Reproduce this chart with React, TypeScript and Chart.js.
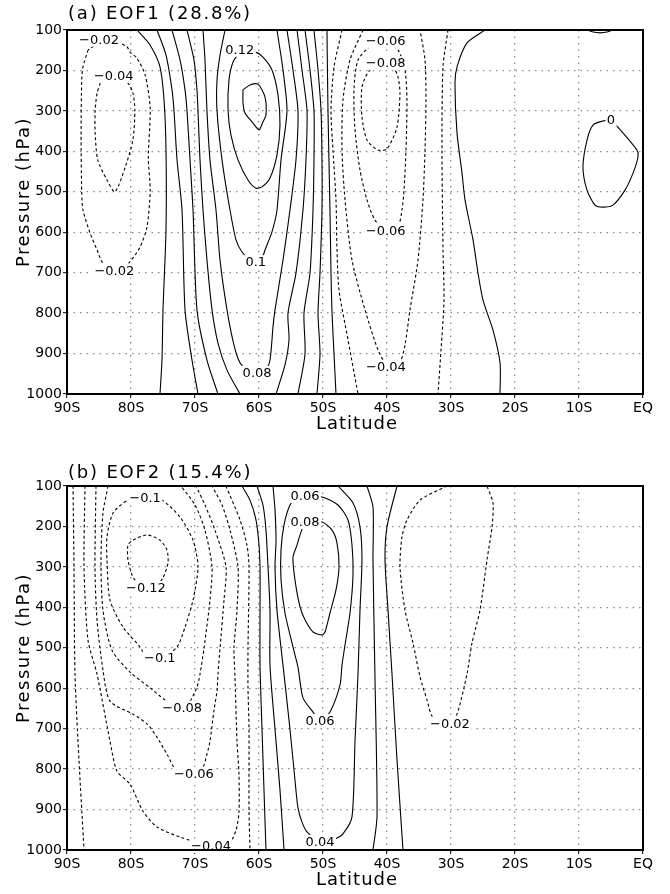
import React, { useEffect, useRef } from "react";
import { Chart, registerables } from "chart.js";

Chart.register(...registerables);

// [latitude (negative = °S), pressure (hPa)]
type P = [number, number];
type Contour = { level: number; pts: P[]; labels: P[] };

const latTickLabel = (v: number) => (v === 0 ? "EQ" : `${Math.abs(v)}S`);
const LAT_MIN = -90;
const LAT_MAX = 0;
const P_TOP = 100;
const P_BOTTOM = 1000;

// ---------------- Panel (a) EOF1 (28.8%) ----------------
const a_m002_w: P[] = [[-86.7,149],[-87.5,191],[-87.7,224],[-87.8,355],[-87.7,503],[-87.5,545],[-86.4,602],[-85.3,644],[-84.5,674],[-83,693],[-81.5,690],[-80.2,674],[-78.6,637],[-77.5,587],[-77,496],[-77.3,416],[-77,293],[-77.8,211],[-79.1,169],[-80.2,154],[-80.6,142],[-82.2,130],[-84.5,128],[-86.7,149]];
const a_m004_w: P[] = [[-84.8,231],[-85.3,256],[-85.6,298],[-85.6,355],[-85.2,421],[-83.75,471],[-82.5,500],[-80.9,439],[-79.7,372],[-79.4,298],[-79.7,256],[-80.5,231],[-82.7,216],[-84.8,231]];
const a_0_w: P[] = [[-79.06,100],[-77.03,137],[-75.47,191],[-74.84,273],[-74.53,397],[-74.53,594],[-75,792],[-75.16,916],[-75.47,1000]];
const a_002_w: P[] = [[-75.94,100],[-74.53,162],[-73.59,248],[-73.28,300],[-72.81,421],[-72.03,545],[-71.56,792],[-70.47,916],[-69.53,1000]];
const a_004_w: P[] = [[-73.59,100],[-72.34,174],[-71.56,248],[-71.25,300],[-70.78,421],[-70.31,545],[-69.69,792],[-68.13,916],[-66.41,1000]];
const a_006_w: P[] = [[-71.25,100],[-70.16,174],[-69.69,248],[-69.53,300],[-69.22,421],[-68.75,545],[-68.13,669],[-67.34,792],[-66.41,874],[-65,941],[-62.97,1000]];
const a_008_u: P[] = [[-68.75,100],[-68.44,174],[-68.13,300],[-67.66,421],[-66.72,545],[-66.09,669],[-65,792],[-63.91,879],[-62.97,923],[-61.72,943],[-60.31,948],[-58.91,938],[-58.28,916],[-57.81,834],[-57.5,792],[-56.25,669],[-55.16,545],[-54.22,421],[-53.91,300],[-54.69,199],[-55.63,100]];
const a_010_u: P[] = [[-65.31,100],[-66.09,162],[-66.56,224],[-66.56,300],[-65.78,421],[-64.53,545],[-63.59,619],[-62.66,649],[-61.41,669],[-60.47,674],[-59.53,664],[-59.06,644],[-57.97,599],[-57.19,545],[-56.56,421],[-55.63,300],[-56.25,199],[-57.19,100]];
const a_012_loop: P[] = [[-62.97,154],[-60.63,154],[-59.38,167],[-57.97,199],[-57.03,261],[-56.72,335],[-57.19,409],[-58.28,466],[-59.53,488],[-60.47,491],[-61.72,471],[-63.28,421],[-64.38,360],[-64.84,298],[-64.69,224],[-64.06,179],[-62.97,154]];
const a_014_loop: P[] = [[-62.5,248],[-61.41,236],[-60.16,234],[-59.06,266],[-58.91,310],[-59.38,327],[-60.0,347],[-61.09,327],[-62.19,305],[-62.5,280],[-62.5,248]];
const a_006_e: P[] = [[-54.06,100],[-53.28,199],[-52.5,300],[-52.66,421],[-53.13,545],[-54.22,701],[-55.47,800],[-55.31,866],[-55.94,928],[-57.34,1000]];
const a_004_e: P[] = [[-52.81,100],[-52.03,199],[-51.41,300],[-51.41,421],[-51.56,545],[-52.03,701],[-52.97,800],[-52.81,901],[-53.91,1000]];
const a_002_e: P[] = [[-51.41,100],[-50.78,199],[-50.31,300],[-50.16,421],[-50.16,545],[-50.47,701],[-50.78,800],[-50.47,901],[-50.94,1000]];
const a_0_e: P[] = [[-49.38,100],[-49.22,300],[-48.91,545],[-48.75,701],[-48.59,800],[-48.28,901],[-47.97,1000]];
const a_m002_e: P[] = [[-47.03,100],[-48.28,191],[-48.75,298],[-48.44,397],[-47.97,520],[-47.81,644],[-47.5,743],[-46.09,866],[-44.53,1000]];
const a_m004_u: P[] = [[-43.75,100],[-45.78,174],[-46.88,273],[-47.03,397],[-46.56,520],[-45.47,669],[-43.44,792],[-41.41,891],[-40.2,925],[-39.1,931],[-37.97,922],[-37.19,879],[-36.41,792],[-35.16,669],[-34.38,520],[-34.06,397],[-33.91,273],[-34.06,174],[-34.84,100]];
const a_m006_loop: P[] = [[-40.16,130],[-42.34,137],[-44.53,174],[-45.16,248],[-45.0,347],[-44.22,446],[-43.13,520],[-41.88,570],[-40.16,594],[-38.28,585],[-37.66,545],[-37.34,496],[-37.03,397],[-36.88,273],[-37.19,199],[-38.28,149],[-40.16,130]];
const a_m008_loop: P[] = [[-40.16,184],[-42.66,199],[-43.91,241],[-43.91,315],[-43.13,372],[-41.41,397],[-40,394],[-38.44,340],[-37.97,256],[-38.28,216],[-38.75,199],[-40.16,184]];
const a_m002_e2: P[] = [[-30.47,100],[-31.25,191],[-31.41,397],[-31.25,644],[-31.09,768],[-31.56,891],[-32.03,1000]];
const a_0_e2: P[] = [[-24.69,100],[-27.5,132],[-29.06,191],[-29.38,231],[-29.06,355],[-28.28,454],[-27.81,520],[-26.56,619],[-25.78,701],[-25,768],[-23.44,842],[-22.34,923],[-22.34,1000]];
const a_0_arc: P[] = [[-8.75,100],[-7.8,105],[-6.7,107],[-5.6,105],[-4.7,100]];
const a_0_loop: P[] = [[-5,323],[-6.25,325],[-7.81,335],[-8.75,372],[-9.38,439],[-8.75,496],[-7.5,533],[-6.25,538],[-4.69,533],[-2.81,496],[-1.56,454],[-0.78,414],[-0.94,397],[-4.22,335],[-5,323]];

const contoursA: Contour[] = [
  { level: -0.02, pts: a_m002_w, labels: [[-85, 124], [-82.6, 695]] },
  { level: -0.04, pts: a_m004_w, labels: [[-82.7, 214]] },
  { level: 0, pts: a_0_w, labels: [] },
  { level: 0.02, pts: a_002_w, labels: [] },
  { level: 0.04, pts: a_004_w, labels: [] },
  { level: 0.06, pts: a_006_w, labels: [] },
  { level: 0.08, pts: a_008_u, labels: [[-60.3, 948]] },
  { level: 0.1, pts: a_010_u, labels: [[-60.5, 674]] },
  { level: 0.12, pts: a_012_loop, labels: [[-63, 149]] },
  { level: 0.14, pts: a_014_loop, labels: [] },
  { level: 0.06, pts: a_006_e, labels: [] },
  { level: 0.04, pts: a_004_e, labels: [] },
  { level: 0.02, pts: a_002_e, labels: [] },
  { level: 0, pts: a_0_e, labels: [] },
  { level: -0.02, pts: a_m002_e, labels: [] },
  { level: -0.04, pts: a_m004_u, labels: [[-40.16, 933]] },
  { level: -0.06, pts: a_m006_loop, labels: [[-40.2, 127], [-40.2, 597]] },
  { level: -0.08, pts: a_m008_loop, labels: [[-40.2, 182]] },
  { level: -0.02, pts: a_m002_e2, labels: [] },
  { level: 0, pts: a_0_e2, labels: [] },
  { level: 0, pts: a_0_arc, labels: [] },
  { level: 0, pts: a_0_loop, labels: [[-5, 322]] },
];

// ---------------- Panel (b) EOF2 (15.4%) ----------------
const b_m002_w: P[] = [[-89.06,100],[-88.91,300],[-88.75,565],[-88.13,777],[-87.34,1000]];
const b_m004_u: P[] = [[-87.19,100],[-87.34,300],[-86.72,481],[-85.31,565],[-83.28,731],[-82.19,805],[-80.16,837],[-78.13,904],[-75.94,943],[-72.34,968],[-67.5,990],[-64.84,988],[-63.59,951],[-63.13,906],[-63.13,812],[-63.44,731],[-63.75,572],[-63.91,501],[-63.44,407],[-63.28,300],[-64.53,209],[-65.78,147],[-67.34,100]];
const b_m006_u: P[] = [[-85.47,100],[-85.63,300],[-85.31,431],[-84.38,555],[-83.28,632],[-79.69,664],[-77.5,688],[-75.94,721],[-74.38,763],[-72.81,805],[-70.16,812],[-68.91,802],[-68.13,763],[-67.66,731],[-67.03,654],[-66.56,607],[-66.41,565],[-66.09,501],[-65.47,382],[-65.16,300],[-66.88,209],[-68.44,147],[-69.84,100]];
const b_m008_u: P[] = [[-83.59,100],[-84.38,167],[-84.69,283],[-84.38,407],[-82.97,506],[-80.16,560],[-77.03,599],[-74.69,629],[-72.66,646],[-72.0,648],[-71.25,646],[-69.69,597],[-69.22,565],[-68.59,501],[-67.66,382],[-67.34,300],[-68.44,209],[-70.0,147],[-72.19,100]];
const b_m010_loop: P[] = [[-77.81,130],[-75.16,135],[-72.34,177],[-70.31,234],[-69.53,300],[-70.31,382],[-71.56,449],[-72.81,498],[-75.16,525],[-77.5,525],[-78.59,498],[-81.25,449],[-83.28,382],[-83.75,283],[-83.75,226],[-82.81,167],[-80.47,135],[-77.81,130]];
const b_m012_loop: P[] = [[-77.66,352],[-76.09,347],[-75.0,327],[-74.22,290],[-74.38,258],[-75.47,234],[-77.5,221],[-79.69,234],[-80.47,246],[-80.47,283],[-79.84,320],[-79.38,332],[-77.66,352]];
const b_m002_c: P[] = [[-65.16,100],[-62.97,184],[-61.88,246],[-61.56,300],[-61.72,501],[-61.72,599],[-61.56,701],[-61.56,901],[-61.41,1000]];
const b_0_w: P[] = [[-62.66,100],[-61.41,135],[-60.47,184],[-60.0,246],[-59.84,300],[-59.84,407],[-59.84,543],[-59.53,701],[-59.22,852],[-58.91,1000]];
const b_002_w: P[] = [[-60.31,100],[-59.38,147],[-58.91,209],[-58.59,300],[-58.28,407],[-58.28,543],[-57.5,701],[-56.72,852],[-56.09,1000]];
const b_004_u: P[] = [[-57.81,100],[-57.5,159],[-57.34,234],[-57.5,300],[-57.19,407],[-56.25,543],[-55.16,701],[-54.38,827],[-53.91,896],[-53.28,931],[-52.5,955],[-50.47,980],[-48.13,973],[-46.88,960],[-45.47,918],[-45.0,731],[-44.53,565],[-44.22,407],[-43.91,283],[-44.22,201],[-45.31,142],[-47.66,100]];
const b_006_loop: P[] = [[-52.81,125],[-50.16,127],[-47.66,147],[-46.09,184],[-45.47,246],[-45.31,320],[-45.78,414],[-46.56,493],[-47.03,543],[-47.34,592],[-48.91,659],[-50.47,681],[-51.56,659],[-53.13,624],[-53.91,548],[-54.69,498],[-55.94,414],[-56.56,332],[-56.56,258],[-56.09,196],[-55.16,147],[-54.22,130],[-52.81,125]];
const b_008_loop: P[] = [[-52.81,189],[-50.16,189],[-48.59,209],[-47.81,241],[-47.5,300],[-47.97,357],[-48.91,414],[-49.69,461],[-50.16,468],[-51.56,461],[-52.81,431],[-53.59,399],[-54.38,332],[-54.69,276],[-54.06,246],[-53.59,221],[-53.13,201],[-52.81,189]];
const b_002_e: P[] = [[-43.13,100],[-42.19,152],[-42.19,283],[-41.88,572],[-41.56,918],[-42.19,1000]];
const b_0_e: P[] = [[-38.44,100],[-40,201],[-40.31,283],[-39.84,407],[-39.22,565],[-38.44,777],[-37.5,1000]];
const b_m002_e: P[] = [[-30.63,100],[-34.84,135],[-36.88,184],[-37.66,226],[-37.97,300],[-37.19,407],[-35.94,488],[-34.84,572],[-33.75,629],[-32.97,669],[-31.5,686],[-30.16,688],[-29.06,664],[-27.5,565],[-26.72,488],[-25.47,407],[-24.38,283],[-23.59,201],[-23.44,142],[-24.38,100]];

const contoursB: Contour[] = [
  { level: -0.02, pts: b_m002_w, labels: [] },
  { level: -0.04, pts: b_m004_u, labels: [[-67.5, 990]] },
  { level: -0.06, pts: b_m006_u, labels: [[-70.16, 812]] },
  { level: -0.08, pts: b_m008_u, labels: [[-72.0, 648]] },
  { level: -0.1, pts: b_m010_loop, labels: [[-77.8, 130], [-75.5, 526]] },
  { level: -0.12, pts: b_m012_loop, labels: [[-77.66, 352]] },
  { level: -0.02, pts: b_m002_c, labels: [] },
  { level: 0, pts: b_0_w, labels: [] },
  { level: 0.02, pts: b_002_w, labels: [] },
  { level: 0.04, pts: b_004_u, labels: [[-50.47, 980]] },
  { level: 0.06, pts: b_006_loop, labels: [[-52.81, 125], [-50.47, 681]] },
  { level: 0.08, pts: b_008_loop, labels: [[-52.81, 189]] },
  { level: 0.02, pts: b_002_e, labels: [] },
  { level: 0, pts: b_0_e, labels: [] },
  { level: -0.02, pts: b_m002_e, labels: [[-30.16, 688]] },
];

// ---------------- drawing ----------------
const FONT = "'DejaVu Sans', 'Liberation Sans', Arial, sans-serif";
const fmtLevel = (v: number) => String(v).replace("-", "\u2212");

function makeOverlay(contours: Contour[], title: string, titleY: number) {
  return {
    id: "contourOverlay",
    afterDatasetsDraw(chart: any) {
      const { ctx, chartArea, scales } = chart;
      ctx.save();
      ctx.font = `13px ${FONT}`;
      ctx.textAlign = "center";
      ctx.textBaseline = "middle";
      for (const c of contours) {
        const text = fmtLevel(c.level);
        const w = ctx.measureText(text).width;
        for (const [lat, p] of c.labels) {
          const x = scales.x.getPixelForValue(lat);
          const y = scales.y.getPixelForValue(p);
          ctx.fillStyle = "#fff";
          ctx.fillRect(x - w / 2 - 1.5, y - 7, w + 3, 14);
          ctx.fillStyle = "#000";
          ctx.fillText(text, x, y + 0.5);
        }
      }
      ctx.lineWidth = 2;
      ctx.strokeStyle = "#000";
      ctx.strokeRect(
        chartArea.left,
        chartArea.top,
        chartArea.right - chartArea.left,
        chartArea.bottom - chartArea.top
      );
      ctx.restore();
    },
    afterDraw(chart: any) {
      const { ctx, chartArea } = chart;
      ctx.save();
      ctx.fillStyle = "#000";
      ctx.font = `18px ${FONT}`;
      (ctx as any).letterSpacing = "1.8px";
      ctx.textAlign = "left";
      ctx.textBaseline = "middle";
      ctx.fillText(title, chartArea.left + 1, titleY);
      (ctx as any).letterSpacing = "1px";
      ctx.textAlign = "center";
      ctx.fillText("Latitude", (chartArea.left + chartArea.right) / 2 + 2, chartArea.bottom + 30);
      (ctx as any).letterSpacing = "1.5px";
      ctx.translate(24, (chartArea.top + chartArea.bottom) / 2 - 20);
      ctx.rotate(-Math.PI / 2);
      ctx.fillText("Pressure (hPa)", 0, 0);
      ctx.restore();
    },
  };
}

function makeChart(
  canvas: HTMLCanvasElement,
  contours: Contour[],
  title: string,
  padTop: number,
  titleY: number
) {
  const H = canvas.height;
  const plotBottom = padTop + 364;
  const datasets = contours.map((c) => ({
    data: c.pts.map(([x, y]) => ({ x, y })),
    showLine: true,
    borderColor: "#000",
    borderWidth: 1.1,
    borderDash: c.level < 0 ? [3, 2.5] : [],
    pointRadius: 0,
    pointHoverRadius: 0,
    tension: 0.25,
    fill: false,
  }));
  const tickFont = { family: FONT, size: 14 };
  const gridOpts = {
    color: "#8a8a8a",
    lineWidth: 1.3,
    tickColor: "#000",
    tickLength: 4,
    tickWidth: 1,
    borderDash: [1.5, 5],
  };
  return new Chart(canvas, {
    type: "scatter",
    data: { datasets },
    options: {
      animation: false,
      responsive: false,
      maintainAspectRatio: false,
      events: [],
      layout: { padding: { left: 0, right: 27, top: padTop, bottom: 0 } },
      plugins: {
        legend: { display: false },
        tooltip: { enabled: false },
        title: { display: false },
      },
      scales: {
        x: {
          type: "linear",
          min: LAT_MIN,
          max: LAT_MAX,
          afterFit: (s: any) => {
            s.height = H - plotBottom;
          },
          ticks: {
            stepSize: 10,
            callback: (v: any) => latTickLabel(Number(v)),
            font: tickFont,
            color: "#000",
            padding: 2,
            maxRotation: 0,
            autoSkip: false,
          },
          grid: gridOpts,
          border: { display: false, dash: [1.5, 5] },
        },
        y: {
          type: "linear",
          reverse: true,
          min: P_TOP,
          max: P_BOTTOM,
          afterFit: (s: any) => {
            s.width = 67;
          },
          ticks: {
            stepSize: 100,
            callback: (v: any) => String(Number(v)),
            font: tickFont,
            color: "#000",
            padding: 1,
            autoSkip: false,
          },
          grid: gridOpts,
          border: { display: false, dash: [1.5, 5] },
        },
      },
    } as any,
    plugins: [makeOverlay(contours, title, titleY)],
  });
}

export default function App() {
  const topRef = useRef<HTMLCanvasElement>(null);
  const botRef = useRef<HTMLCanvasElement>(null);
  useEffect(() => {
    const c1 = makeChart(topRef.current!, contoursA, "(a) EOF1 (28.8%)", 30, 14);
    const c2 = makeChart(botRef.current!, contoursB, "(b) EOF2 (15.4%)", 39, 26);
    return () => {
      c1.destroy();
      c2.destroy();
    };
  }, []);
  return (
    <div
      style={{
        position: "absolute",
        left: 0,
        top: 0,
        width: 670,
        height: 894,
        background: "#fff",
      }}
    >
      <canvas
        ref={topRef}
        width={670}
        height={447}
        style={{ position: "absolute", left: 0, top: 0, width: 670, height: 447 }}
      />
      <canvas
        ref={botRef}
        width={670}
        height={447}
        style={{ position: "absolute", left: 0, top: 447, width: 670, height: 447 }}
      />
    </div>
  );
}
